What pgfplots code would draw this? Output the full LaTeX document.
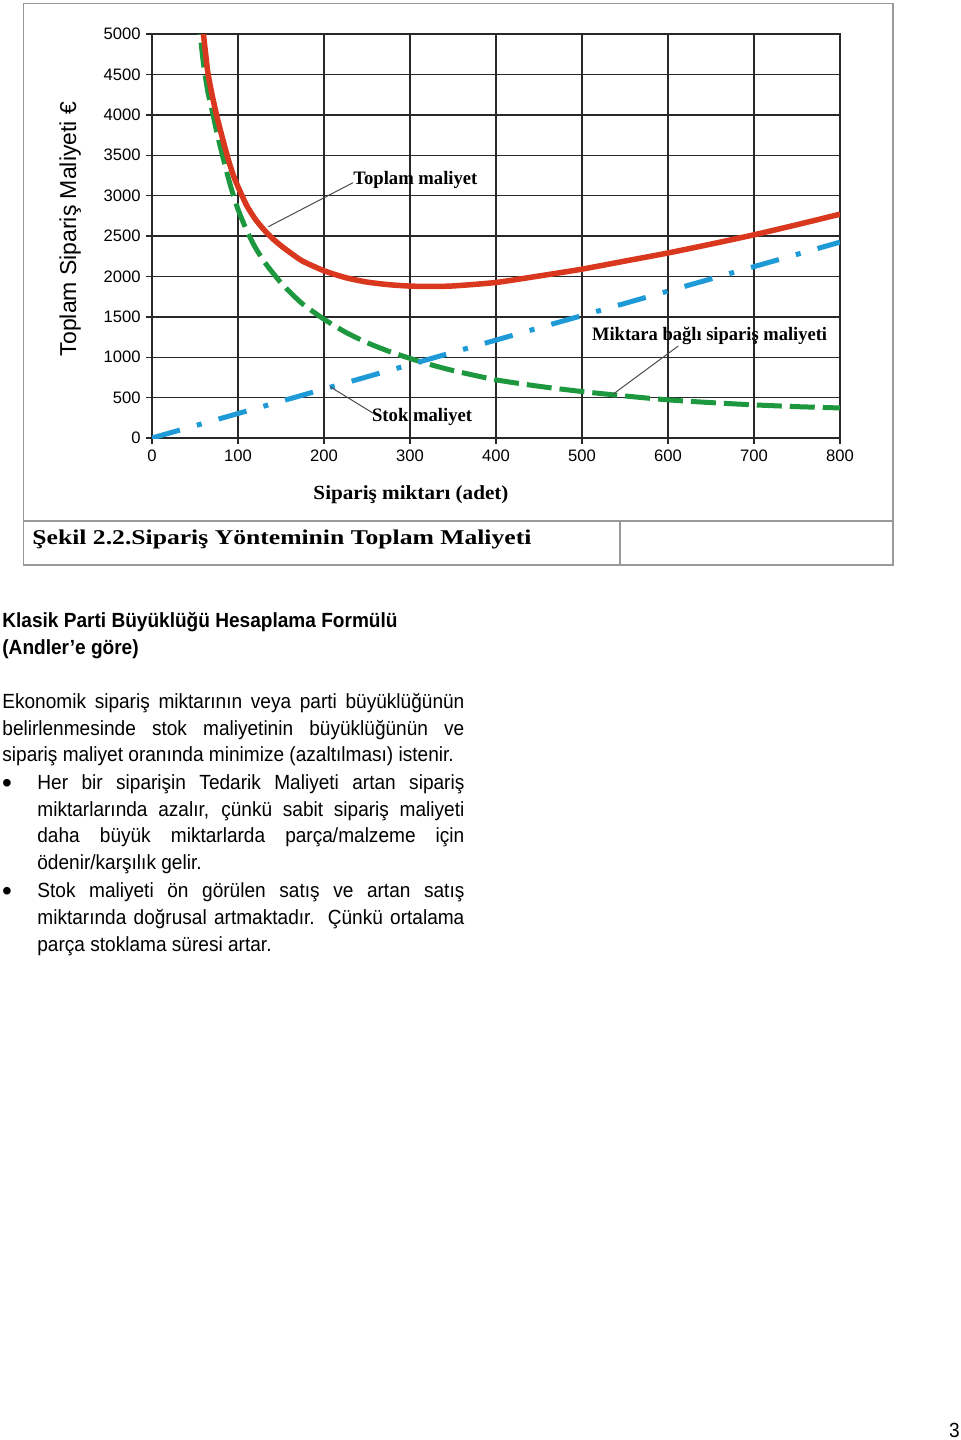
\documentclass[border=0pt]{standalone}
\usepackage{pgfplots}
\pgfplotsset{compat=1.18}
\usepackage{graphicx}
\usepackage{fontspec}
\setmainfont{Liberation Sans}
\newfontfamily\bodyfont{Liberation Sans}[FakeStretch=0.93]
\newfontfamily\serifbf{Liberation Serif}
\newfontfamily\sansf{Liberation Sans}
\definecolor{cred}{RGB}{218,56,30}
\definecolor{cgreen}{RGB}{30,152,62}
\definecolor{cblue}{RGB}{30,155,215}
\definecolor{cgrid}{RGB}{40,40,40}
\newcommand\tickfont{\sansf\fontsize{8.3}{9}\selectfont}
\newcommand\bt{\bodyfont\fontsize{10.25}{12}\selectfont}
\newcommand\anf{\serifbf\bfseries\fontsize{9.5}{11}\selectfont}

\pgfplotstableread{
x y
53 5300
56 5000
60 4620
65 4280
70 4050
75 3800
80 3580
85 3370
90 3170
95 2990
100 2830
110 2570
120 2360
130 2190
140 2050
150 1920
160 1810
175 1660
200 1470
225 1310
250 1180
275 1075
300 985
325 905
350 835
400 720
450 640
500 575
550 520
600 472
650 438
700 410
750 388
800 372
}\greendata

\pgfplotstableread{
x y
0 0
800 2424
}\bluedata

\pgfplotstableread{
x y
56 5400
60 4980
62 4790
65 4520
70 4240
75 4000
80 3790
85 3590
90 3400
95 3240
100 3110
110 2880
120 2710
130 2580
140 2470
150 2380
160 2300
175 2190
200 2070
225 1985
250 1930
275 1898
300 1880
325 1876
350 1882
400 1925
450 2005
500 2090
550 2190
600 2290
650 2400
700 2515
750 2640
800 2770
}\reddata

\begin{document}
\begin{tikzpicture}
\begin{scope}[x=0.5pt,y=-0.5pt]
\path[use as bounding box] (0,0) rectangle (960,1440);
\fill[white] (0,0) rectangle (960,1440);
\draw[black!40, line width=0.8pt] (23.5,3.5) rectangle (893,565);
\draw[black!40, line width=0.8pt] (23.5,521) -- (893,521);
\draw[black!40, line width=0.8pt] (620,521) -- (620,565);
\end{scope}

\begin{axis}[
  at={(76pt,-219pt)}, anchor=south west,
  scale only axis, width=344pt, height=202pt,
  xmin=0, xmax=800, ymin=0, ymax=5000,
  xtick={0,100,...,800}, ytick={0,500,...,5000},
  scaled ticks=false,
  grid=major, grid style={cgrid, line width=0.7pt},
  axis line style={cgrid, line width=0.7pt},
  tick style={cgrid, line width=0.7pt},
  tick align=outside, major tick length=3pt, tick pos=left,
  ticklabel style={font=\tickfont, inner sep=0pt},
  /pgf/number format/assume math mode=true,
  /pgf/number format/1000 sep={},
  xticklabel shift=3pt, yticklabel shift=2.5pt,
]
\addplot[cgreen, line width=2.5pt, dash pattern=on 12.5pt off 4pt, line join=round, smooth, tension=0.4] table[x=x,y=y] {\greendata};
\addplot[cblue, line width=2.5pt, dash pattern=on 14.5pt off 8.8pt on 2.5pt off 8.8pt] table[x=x,y=y] {\bluedata};
\addplot[cred, line width=2.75pt, line join=round, smooth, tension=0.4] table[x=x,y=y] {\reddata};
\end{axis}

\begin{scope}[x=0.5pt,y=-0.5pt]
% annotations
\draw[black!70, line width=0.5pt] (268.3,226.7) -- (353,182.7);
\draw[black!70, line width=0.5pt] (330,386.7) -- (373.3,413.3);
\draw[black!70, line width=0.5pt] (613.3,394) -- (678.3,346);
\node[anchor=base west, inner sep=0pt] at (353,184.3) {\resizebox{62pt}{\height}{\anf Toplam maliyet}};
\node[anchor=base west, inner sep=0pt] at (371.7,421.7) {\resizebox{50pt}{\height}{\anf Stok maliyet}};
\node[anchor=base west, inner sep=0pt] at (591.7,340.7) {\resizebox{117.5pt}{\height}{\anf Miktara bağlı sipariş maliyeti}};
% axis titles
\node[anchor=base, inner sep=0pt] at (411,499) {\resizebox{97.5pt}{\height}{\serifbf\bfseries\fontsize{10}{12}\selectfont Sipariş miktarı (adet)}};
\node[rotate=90, anchor=base, inner sep=0pt] at (76,229) {\sansf\fontsize{11.5}{13}\selectfont Toplam Sipariş Maliyeti €};
% caption
\node[anchor=base west, inner sep=0pt] at (32,544) {\resizebox{249.5pt}{\height}{\serifbf\bfseries\fontsize{10.5}{12}\selectfont Şekil 2.2.Sipariş Yönteminin Toplam Maliyeti}};
% body text
\node[anchor=base west, inner sep=0pt] at (2,627.3) {\bt\bfseries Klasik Parti Büyüklüğü Hesaplama Formülü};
\node[anchor=base west, inner sep=0pt] at (2,654) {\bt\bfseries (Andler’e göre)};
\node[anchor=base west, inner sep=0pt] at (2,708.3) {\bt\makebox[231pt][s]{Ekonomik sipariş miktarının veya parti büyüklüğünün}};
\node[anchor=base west, inner sep=0pt] at (2,735) {\bt\makebox[231pt][s]{belirlenmesinde stok maliyetinin büyüklüğünün ve}};
\node[anchor=base west, inner sep=0pt] at (2,761.7) {\bt sipariş maliyet oranında minimize (azaltılması) istenir.};
\node[anchor=base, inner sep=0pt] at (7,792) {\sansf\fontsize{14}{14}\selectfont •};
\node[anchor=base west, inner sep=0pt] at (37,789.3) {\bt\makebox[213.5pt][s]{Her bir siparişin Tedarik Maliyeti artan sipariş}};
\node[anchor=base west, inner sep=0pt] at (37,816) {\bt\makebox[213.5pt][s]{miktarlarında azalır, çünkü sabit sipariş maliyeti}};
\node[anchor=base west, inner sep=0pt] at (37,842.7) {\bt\makebox[213.5pt][s]{daha büyük miktarlarda parça/malzeme için}};
\node[anchor=base west, inner sep=0pt] at (37,869.3) {\bt ödenir/karşılık gelir.};
\node[anchor=base, inner sep=0pt] at (7,900.4) {\sansf\fontsize{14}{14}\selectfont •};
\node[anchor=base west, inner sep=0pt] at (37,897.7) {\bt\makebox[213.5pt][s]{Stok maliyeti ön görülen satış ve artan satış}};
\node[anchor=base west, inner sep=0pt] at (37,924.3) {\bt\makebox[213.5pt][s]{miktarında doğrusal artmaktadır. Çünkü ortalama}};
\node[anchor=base west, inner sep=0pt] at (37,951) {\bt parça stoklama süresi artar.};
\node[anchor=base east, inner sep=0pt] at (960,1437) {\bt 3};
\end{scope}
\end{tikzpicture}
\end{document}
